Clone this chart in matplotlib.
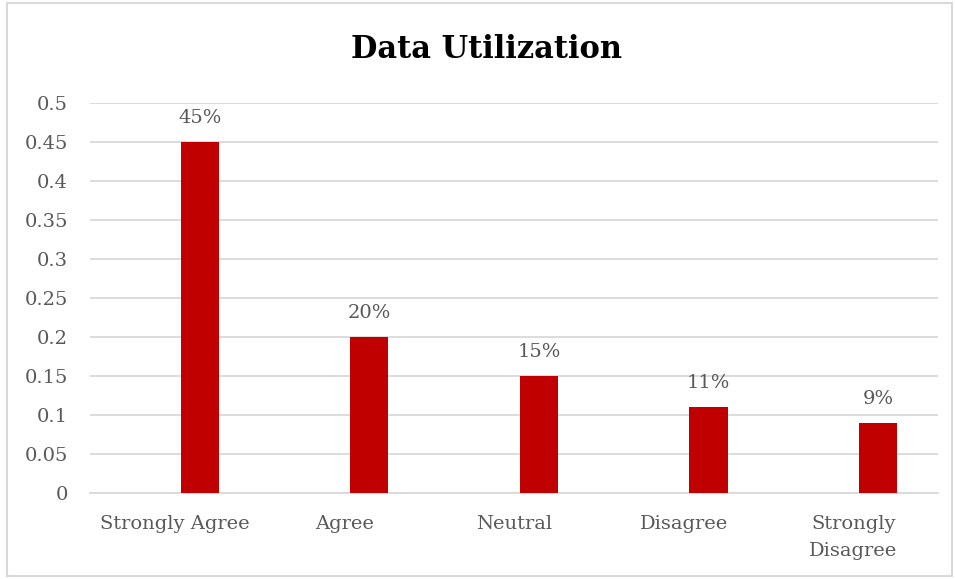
import matplotlib.pyplot as plt
from matplotlib.patches import Rectangle

# Chart data
categories = ['Strongly Agree', 'Agree', 'Neutral', 'Disagree', 'Strongly\nDisagree']
values = [0.45, 0.20, 0.15, 0.11, 0.09]
labels = ['45%', '20%', '15%', '11%', '9%']
yticks = [0, 0.05, 0.1, 0.15, 0.2, 0.25, 0.3, 0.35, 0.4, 0.45, 0.5]
ytick_labels = ['0', '0.05', '0.1', '0.15', '0.2', '0.25', '0.3', '0.35', '0.4', '0.45', '0.5']

plt.rcParams['font.family'] = ['DejaVu Serif']
text_col = '#595959'

fig = plt.figure(figsize=(9.55, 5.79), dpi=100)
ax = fig.add_axes([90/955, 1 - 493/579, 848/955, 390/579])

# bars sit a bit right of the category centre (empty second series in the original)
x = list(range(len(categories)))
shift = 0.147
bx = [i + shift for i in x]
ax.bar(bx, values, width=0.225, color='#C00000', zorder=3)

for i, v in enumerate(values):
    ax.annotate(labels[i], (bx[i], v), xytext=(0, 11), textcoords='offset points',
                ha='center', va='bottom', fontsize=14, color=text_col)

ax.set_xlim(-0.5, len(categories) - 0.5)
ax.set_ylim(0, 0.5)
ax.set_yticks(yticks)
ax.set_yticklabels(ytick_labels)
ax.set_xticks(x)
ax.set_xticklabels(categories, va='top', linespacing=1.65)
ax.tick_params(axis='y', length=0, pad=16, labelsize=14, labelcolor=text_col)
ax.tick_params(axis='x', length=0, pad=16, labelsize=14, labelcolor=text_col)

ax.grid(axis='y', color='#d9d9d9', linewidth=1.3, zorder=0)
for s in ['top', 'right', 'left']:
    ax.spines[s].set_visible(False)
ax.spines['bottom'].set_color('#d9d9d9')
ax.spines['bottom'].set_linewidth(1.3)

fig.text(487/955, 1 - 49/579, 'Data Utilization', ha='center', va='center',
         fontsize=22, fontweight='bold', color='black')

# light frame around the chart
fig.patches.append(Rectangle((0.007, 0.005), 0.99, 0.99, transform=fig.transFigure,
                             fill=False, edgecolor='#d9d9d9', linewidth=1.5))

fig.savefig('out.png', dpi=100)
